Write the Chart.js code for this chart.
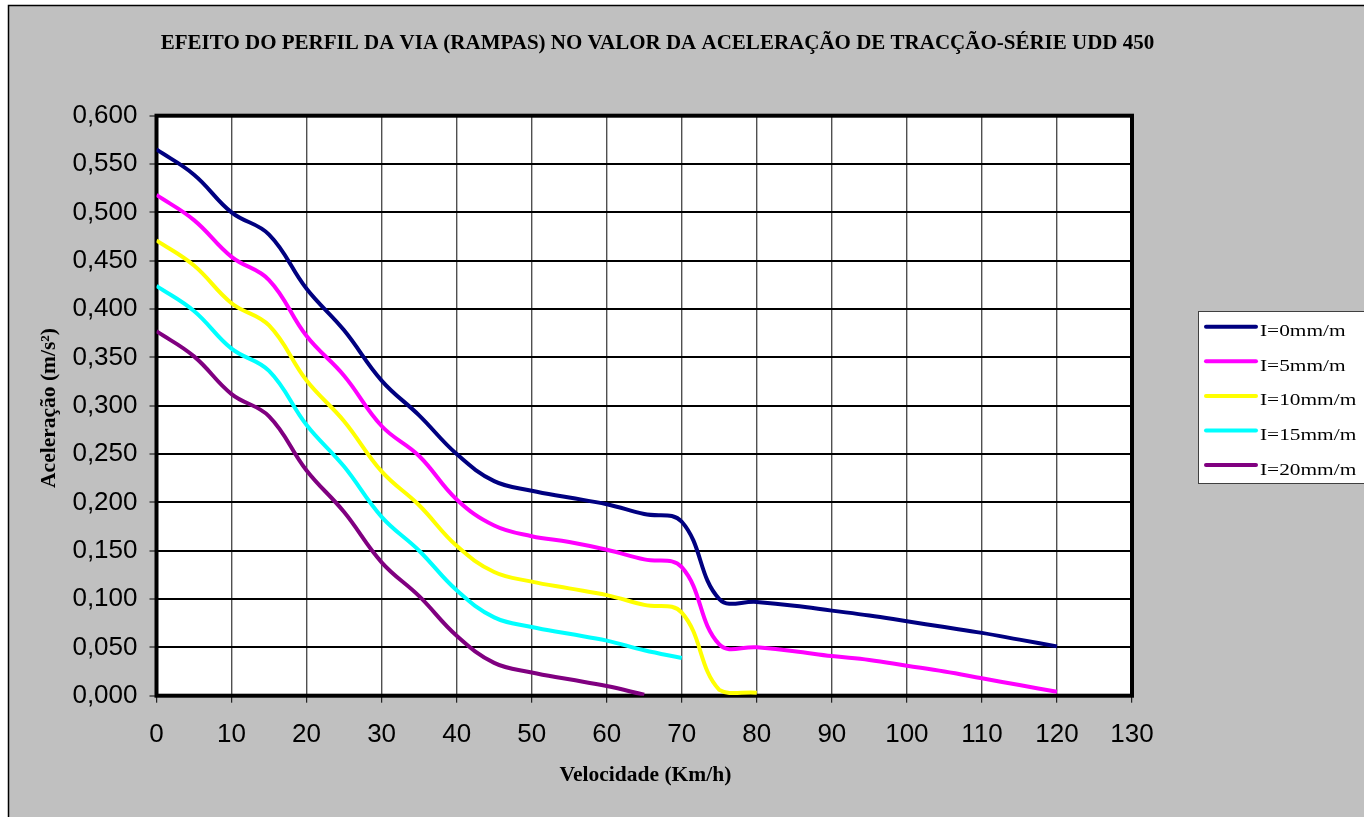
<!DOCTYPE html>
<html><head><meta charset="utf-8">
<script src="https://cdn.jsdelivr.net/npm/chart.js@4/dist/chart.umd.min.js"></script>
<style>html,body{margin:0;padding:0;background:#fff;overflow:hidden}canvas{display:block}</style>
</head><body>
<canvas id="c" width="1364" height="817"></canvas>
<script>
const chartTitle = 'EFEITO DO PERFIL DA VIA (RAMPAS) NO VALOR DA ACELERAÇÃO DE TRACÇÃO-SÉRIE UDD 450';
const xTitle = 'Velocidade (Km/h)';
const yTitle = 'Aceleração (m/s²)';
const seriesLabels = ['I=0mm/m','I=5mm/m','I=10mm/m','I=15mm/m','I=20mm/m'];
const seriesColors = ['#000080','#FF00FF','#FFFF00','#00FFFF','#800080'];

const speedsI0  = [0,5,10,15,20,25,30,35,40,45,50,55,60,65,70,75,80,85,90,95,100,105,110,115,120];
const accelI0   = [0.565,0.539,0.500,0.477,0.421,0.378,0.326,0.290,0.250,0.222,0.212,0.205,0.198,0.188,0.180,0.100,0.097,0.093,0.088,0.083,0.077,0.071,0.065,0.058,0.051];
const speedsI5  = [0,5,10,15,20,25,30,35,40,45,50,55,60,65,70,75,80,85,90,95,100,105,110,115,120];
const accelI5   = [0.518,0.492,0.454,0.430,0.372,0.331,0.279,0.248,0.203,0.176,0.165,0.159,0.151,0.141,0.133,0.053,0.050,0.046,0.041,0.037,0.031,0.025,0.018,0.011,0.004];
const speedsI10 = [0,5,10,15,20,25,30,35,40,45,50,55,60,65,70,75,80];
const accelI10  = [0.471,0.445,0.406,0.383,0.326,0.284,0.232,0.197,0.155,0.128,0.118,0.111,0.104,0.094,0.086,0.006,0.003];
const speedsI15 = [0,5,10,15,20,25,30,35,40,45,50,55,60,65,70];
const accelI15  = [0.424,0.398,0.359,0.336,0.280,0.237,0.185,0.150,0.109,0.081,0.071,0.064,0.057,0.047,0.039];
const speedsI20 = [0,5,10,15,20,25,30,35,40,45,50,55,60,65];
const accelI20  = [0.377,0.351,0.312,0.289,0.233,0.190,0.138,0.103,0.062,0.034,0.024,0.017,0.010,0.001];

const xMin = 0, xMax = 130, xStep = 10;
const yMin = 0, yMax = 0.6, yStep = 0.05;

const allSpeeds = [speedsI0, speedsI5, speedsI10, speedsI15, speedsI20];
const allAccel  = [accelI0, accelI5, accelI10, accelI15, accelI20];

const W = 1364, H = 817;
const SERIF = '"Liberation Serif", "Times New Roman", serif';
const SANS = '"Liberation Sans", Arial, sans-serif';

const deco = {
  id: 'deco',
  beforeDraw(chart) {
    const ctx = chart.ctx, a = chart.chartArea;
    ctx.save();
    ctx.fillStyle = '#ffffff'; ctx.fillRect(0, 0, W, H);
    ctx.fillStyle = '#c0c0c0'; ctx.fillRect(8, 5, W - 8, H - 5);
    ctx.strokeStyle = '#000'; ctx.lineWidth = 1.5;
    ctx.beginPath(); ctx.moveTo(8.5, H); ctx.lineTo(8.5, 5.5); ctx.lineTo(W, 5.5); ctx.stroke();
    ctx.fillStyle = '#ffffff'; ctx.fillRect(a.left, a.top, a.right - a.left, a.bottom - a.top);
    ctx.restore();
  },
  beforeDatasetsDraw(chart) {
    const ctx = chart.ctx, a = chart.chartArea;
    ctx.save();
    ctx.strokeStyle = '#000'; ctx.lineWidth = 4;
    ctx.strokeRect(a.left, a.top, a.right - a.left, a.bottom - a.top);
    ctx.restore();
  },
  afterDraw(chart) {
    const ctx = chart.ctx;
    ctx.save();
    ctx.fillStyle = '#000';
    ctx.font = 'bold 21px ' + SERIF;
    ctx.textAlign = 'center'; ctx.textBaseline = 'alphabetic';
    ctx.fillText(chartTitle, 657.5, 48.5);
    ctx.font = 'bold 21.5px ' + SERIF;
    ctx.fillText(xTitle, 645.4, 781);
    ctx.save();
    ctx.translate(54.5, 408); ctx.rotate(-Math.PI / 2);
    ctx.fillText(yTitle, 0, 0);
    ctx.restore();
    // legend
    const lx = 1198.5, ly = 311.5, lh = 172, lw = 200;
    ctx.fillStyle = '#ffffff'; ctx.fillRect(lx, ly, lw, lh);
    ctx.strokeStyle = '#404040'; ctx.lineWidth = 1; ctx.strokeRect(lx, ly, lw, lh);
    chart.data.datasets.forEach((d, i) => {
      const y = 326.7 + i * 34.6;
      ctx.strokeStyle = d.borderColor; ctx.lineWidth = 4; ctx.lineCap = 'round';
      ctx.beginPath(); ctx.moveTo(1206, y); ctx.lineTo(1256, y); ctx.stroke();
      ctx.save();
      ctx.translate(1260, y + 9.5); ctx.scale(1.22, 1);
      ctx.fillStyle = '#000'; ctx.font = '17.5px ' + SERIF;
      ctx.textAlign = 'left'; ctx.textBaseline = 'alphabetic';
      ctx.fillText(d.label, 0, 0);
      ctx.restore();
    });
    ctx.restore();
  }
};

const datasets = seriesLabels.map((lab, i) => ({
  label: lab,
  data: allSpeeds[i].map((s, k) => ({ x: s, y: allAccel[i][k] })),
  borderColor: seriesColors[i],
  backgroundColor: seriesColors[i],
  borderWidth: 4,
  pointRadius: 0,
  tension: 0.4,
  fill: false
}));

new Chart(document.getElementById('c'), {
  type: 'line',
  data: { datasets },
  plugins: [deco],
  options: {
    responsive: false,
    animation: false,
    devicePixelRatio: 1,
    layout: { padding: { left: 0, top: 115.7, right: 232, bottom: 0 } },
    plugins: { legend: { display: false }, title: { display: false }, tooltip: { enabled: false } },
    scales: {
      x: {
        type: 'linear', min: xMin, max: xMax,
        afterFit(s) { s.height = 121.3; },
        ticks: { stepSize: xStep, autoSkip: false, maxRotation: 0, padding: 17, color: '#000',
          font: { family: SANS, size: 26 }, callback: v => String(v) },
        grid: { color: '#505050', lineWidth: 1.4, tickLength: 7, tickColor: '#000', tickWidth: 1 },
        border: { display: false }
      },
      y: {
        min: yMin, max: yMax,
        afterFit(s) { s.width = 156.5; },
        ticks: { stepSize: yStep, padding: 12, color: '#000',
          font: { family: SANS, size: 26 }, callback: v => Number(v).toFixed(3).replace('.', ',') },
        grid: { color: '#000', lineWidth: 2, tickLength: 7, tickColor: '#000', tickWidth: 1 },
        border: { display: false }
      }
    }
  }
});
</script>
</body></html>
